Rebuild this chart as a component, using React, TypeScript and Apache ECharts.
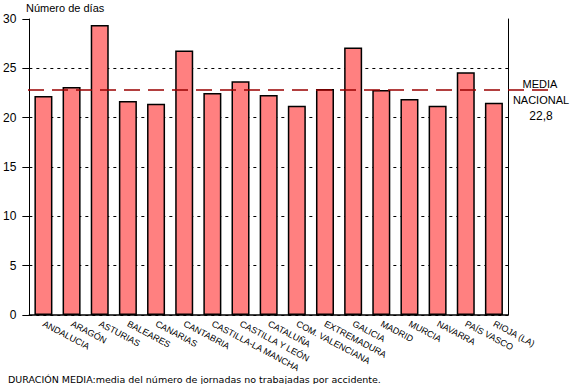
import React, { useEffect, useRef } from "react";
import * as echarts from "echarts";

const categories = [
  "ANDALUCIA", "ARAGÓN", "ASTURIAS", "BALEARES", "CANARIAS", "CANTABRIA",
  "CASTILLA-LA MANCHA", "CASTILLA Y LEÓN", "CATALUÑA", "COM. VALENCIANA",
  "EXTREMADURA", "GALICIA", "MADRID", "MURCIA", "NAVARRA", "PAÍS VASCO", "RIOJA (LA)",
];
const values = [22.2, 23.1, 29.4, 21.7, 21.4, 26.8, 22.5, 23.7, 22.3, 21.2, 22.9, 27.1, 22.8, 21.9, 21.2, 24.6, 21.5];
const MEAN = 22.8;
const meanLabel = ["MEDIA", "NACIONAL", "22,8"];
const yTitle = "Número de días";
const footer = "DURACIÓN MEDIA:media del número de jornadas no trabajadas por accidente.";

export default function App() {
  const ref = useRef<HTMLDivElement>(null);
  useEffect(() => {
    if (!ref.current) return;
    const chart = echarts.init(ref.current, null, { renderer: "svg" });
    const option: any = {
      animation: false,
      grid: { left: 28, right: 63, top: 19, bottom: 69, containLabel: false },
      xAxis: {
        type: "category",
        data: categories,
        axisLine: { show: true, lineStyle: { color: "#000", width: 1.5 } },
        axisTick: { show: false },
        axisLabel: {
          rotate: -28,
          interval: 0,
          margin: 8,
          color: "#000",
          fontSize: 9,
          fontFamily: "Arial, Liberation Sans, sans-serif",
        },
      },
      yAxis: [
        {
          type: "value",
          min: 0,
          max: 30,
          interval: 5,
          axisLine: { show: true, lineStyle: { color: "#000", width: 1 } },
          axisTick: { show: true, inside: false, length: 7, lineStyle: { color: "#000" } },
          axisLabel: { color: "#000", fontSize: 12, margin: 13, fontFamily: "Arial, Liberation Sans, sans-serif" },
          splitLine: { show: true, showMaxLine: false, lineStyle: { color: "#000", type: [3, 4], width: 1 } },
        },
        {
          type: "value",
          min: 0,
          max: 30,
          interval: 5,
          position: "right",
          axisLine: { show: true, lineStyle: { color: "#000", width: 1 } },
          axisTick: { show: false },
          axisLabel: { show: false },
          splitLine: { show: false },
        },
      ],
      series: [
        {
          type: "bar",
          data: values,
          barCategoryGap: "36%",
          itemStyle: { color: "#FF8080", borderColor: "#000", borderWidth: 1.5 },
        },
      ],
    };
    chart.setOption(option);
    const yMean = chart.convertToPixel({ yAxisIndex: 0 }, MEAN) as number;
    chart.setOption({
      graphic: [
        {
          type: "line",
          shape: { x1: 28, y1: yMean, x2: 552, y2: yMean },
          style: { stroke: "#990000", lineWidth: 1.5, lineDash: [16, 8] },
          z: 100,
        },
        {
          type: "text",
          x: 540, y: yMean - 6,
          style: { text: meanLabel[0], fill: "#000", font: "11px Arial, Liberation Sans, sans-serif", textAlign: "center", textVerticalAlign: "middle" },
        },
        {
          type: "text",
          x: 541, y: yMean + 10,
          style: { text: meanLabel[1], fill: "#000", font: "11px Arial, Liberation Sans, sans-serif", textAlign: "center", textVerticalAlign: "middle" },
        },
        {
          type: "text",
          x: 541, y: yMean + 26,
          style: { text: meanLabel[2], fill: "#000", font: "12px Arial, Liberation Sans, sans-serif", textAlign: "center", textVerticalAlign: "middle" },
        },
        {
          type: "text",
          x: 26, y: 8,
          style: { text: yTitle, fill: "#000", font: "11px Arial, Liberation Sans, sans-serif", textAlign: "left", textVerticalAlign: "middle" },
        },
        {
          type: "text",
          x: 8, y: 379,
          style: { text: footer, fill: "#000", font: "9.5px DejaVu Sans, sans-serif", textAlign: "left", textVerticalAlign: "middle" },
        },
      ],
    });
    return () => chart.dispose();
  }, []);
  return <div ref={ref} style={{ position: "fixed", left: 0, top: 0, width: 571, height: 384, background: "#fff" }} />;
}
